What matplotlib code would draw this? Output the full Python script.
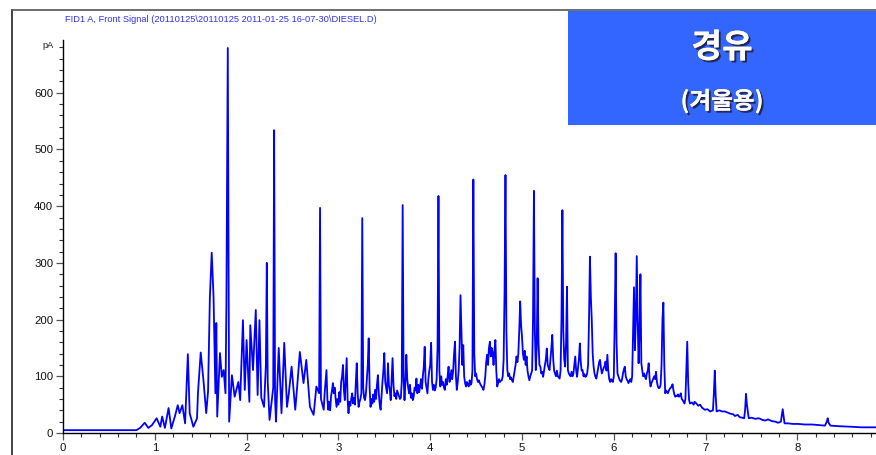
import matplotlib
matplotlib.use("Agg")
import matplotlib.pyplot as plt
from matplotlib import font_manager
from matplotlib.ticker import MultipleLocator
from matplotlib.lines import Line2D
from matplotlib.patches import Rectangle
import matplotlib.patheffects as pe

# ---------------- data ----------------
# early part of the run (retention time in min, signal in pA)
times_early = [0.00, 0.80, 0.84, 0.89, 0.93, 0.97, 1.02, 1.06, 1.08, 1.11,
               1.15, 1.18, 1.22, 1.25, 1.27, 1.30, 1.33, 1.36, 1.38, 1.42,
               1.46, 1.47, 1.50, 1.53, 1.56, 1.58, 1.60, 1.62, 1.64, 1.66,
               1.67, 1.68, 1.71, 1.73, 1.75, 1.77, 1.78, 1.795, 1.81, 1.84,
               1.87, 1.91, 1.93, 1.96, 1.98, 2.00, 2.03, 2.04, 2.07, 2.10,
               2.12, 2.14, 2.16, 2.19, 2.21, 2.22, 2.23, 2.25, 2.29, 2.30,
               2.31, 2.32, 2.35, 2.38, 2.41, 2.44, 2.46, 2.49, 2.53, 2.55,
               2.58, 2.62, 2.65, 2.69, 2.73, 2.76, 2.79, 2.80, 2.81, 2.84]
signal_early = [5, 5, 9, 18, 9, 14, 26, 11, 29, 9,
                44, 8, 30, 49, 35, 49, 17, 139, 35, 11,
                26, 70, 142, 93, 35, 73, 240, 318, 240, 70,
                194, 29, 141, 99, 111, 70, 229, 679, 20, 102,
                64, 90, 58, 199, 76, 164, 55, 190, 111, 217,
                67, 199, 62, 46, 120, 300, 90, 23, 80, 534,
                60, 20, 150, 35, 159, 46, 70, 117, 41, 80,
                143, 88, 129, 46, 32, 82, 70, 397, 60, 41]

# middle part, one reading every 0.01 min
times_mid = [2.85, 2.86, 2.87, 2.88, 2.89,
             2.90, 2.91, 2.92, 2.93, 2.94, 2.95, 2.96, 2.97, 2.98, 2.99,
             3.00, 3.01, 3.02, 3.03, 3.04, 3.05, 3.06, 3.07, 3.08, 3.09,
             3.10, 3.11, 3.12, 3.13, 3.14, 3.15, 3.16, 3.17, 3.18, 3.19,
             3.20, 3.21, 3.22, 3.23, 3.24, 3.25, 3.26, 3.27, 3.28, 3.29,
             3.30, 3.31, 3.32, 3.33, 3.34, 3.35, 3.36, 3.37, 3.38, 3.39,
             3.40, 3.41, 3.42, 3.43, 3.44, 3.45, 3.46, 3.47, 3.48, 3.49,
             3.50, 3.51, 3.52, 3.53, 3.54, 3.55, 3.56, 3.57, 3.58, 3.59,
             3.60, 3.61, 3.62, 3.63, 3.64, 3.65, 3.66, 3.67, 3.68, 3.69,
             3.70, 3.71, 3.72, 3.73, 3.74, 3.75, 3.76, 3.77, 3.78, 3.79,
             3.80, 3.81, 3.82, 3.83, 3.84, 3.85, 3.86, 3.87, 3.88, 3.89,
             3.90, 3.91, 3.92, 3.93, 3.94, 3.95, 3.96, 3.97, 3.98, 3.99,
             4.00, 4.01, 4.02, 4.03, 4.04, 4.05, 4.06, 4.07, 4.08, 4.09,
             4.10, 4.11, 4.12, 4.13, 4.14, 4.15, 4.16, 4.17, 4.18, 4.19,
             4.20, 4.21, 4.22, 4.23, 4.24, 4.25, 4.26, 4.27, 4.28, 4.29,
             4.30, 4.31, 4.32, 4.33, 4.34, 4.35, 4.36, 4.37, 4.38, 4.39,
             4.40, 4.41, 4.42, 4.43, 4.44, 4.45, 4.46, 4.47, 4.48, 4.49,
             4.50, 4.51, 4.52, 4.53, 4.54, 4.55, 4.56, 4.57, 4.58, 4.59,
             4.60, 4.61, 4.62, 4.63, 4.64, 4.65, 4.66, 4.67, 4.68, 4.69,
             4.70, 4.71, 4.72, 4.73, 4.74, 4.75, 4.76, 4.77, 4.78, 4.79,
             4.80, 4.81, 4.82, 4.83, 4.84, 4.85, 4.86, 4.87, 4.88, 4.89,
             4.90, 4.91, 4.92, 4.93, 4.94, 4.95, 4.96, 4.97, 4.98, 4.99,
             5.00, 5.01, 5.02, 5.03, 5.04, 5.05, 5.06, 5.07, 5.08, 5.09,
             5.10, 5.11, 5.12, 5.13, 5.14, 5.15, 5.16, 5.17, 5.18, 5.19,
             5.20, 5.21, 5.22, 5.23, 5.24, 5.25, 5.26, 5.27, 5.28, 5.29,
             5.30, 5.31, 5.32, 5.33, 5.34, 5.35, 5.36, 5.37, 5.38, 5.39,
             5.40, 5.41, 5.42, 5.43, 5.44, 5.45, 5.46, 5.47, 5.48, 5.49,
             5.50, 5.51, 5.52, 5.53, 5.54, 5.55, 5.56, 5.57, 5.58, 5.59,
             5.60, 5.61, 5.62, 5.63, 5.64, 5.65, 5.66, 5.67, 5.68, 5.69,
             5.70, 5.71, 5.72, 5.73, 5.74, 5.75, 5.76, 5.77, 5.78, 5.79,
             5.80, 5.81, 5.82, 5.83, 5.84, 5.85, 5.86, 5.87, 5.88, 5.89,
             5.90, 5.91, 5.92, 5.93, 5.94, 5.95, 5.96, 5.97, 5.98, 5.99,
             6.00, 6.01, 6.02, 6.03, 6.04, 6.05, 6.06, 6.07, 6.08, 6.09,
             6.10, 6.11, 6.12, 6.13, 6.14, 6.15, 6.16, 6.17, 6.18, 6.19,
             6.20, 6.21, 6.22, 6.23, 6.24, 6.25, 6.26, 6.27, 6.28, 6.29,
             6.30, 6.31, 6.32, 6.33, 6.34, 6.35, 6.36, 6.37, 6.38, 6.39,
             6.40, 6.41, 6.42, 6.43, 6.44, 6.45, 6.46, 6.47, 6.48, 6.49,
             6.50, 6.51, 6.52, 6.53, 6.54, 6.55, 6.56, 6.57, 6.58, 6.59,
             6.60, 6.61, 6.62, 6.63, 6.64, 6.65, 6.66, 6.67, 6.68, 6.69,
             6.70, 6.71, 6.72, 6.73, 6.74, 6.75, 6.76, 6.77, 6.78, 6.79,
             6.80, 6.81, 6.82, 6.83]
signal_mid = [70, 90, 111, 60, 41,
              55, 40, 65, 75, 88, 70, 80, 60, 46, 60,
              50, 72, 55, 90, 100, 120, 75, 58, 95, 132,
              60, 35, 55, 48, 60, 70, 52, 62, 50, 90,
              123, 70, 46, 55, 60, 70, 379, 80, 62, 58,
              70, 95, 120, 167, 80, 46, 60, 52, 68, 55,
              76, 60, 85, 102, 70, 50, 41, 65, 90, 110,
              141, 90, 80, 70, 123, 85, 75, 58, 95, 132,
              85, 65, 70, 60, 75, 70, 65, 60, 62, 90,
              402, 100, 58, 90, 138, 95, 80, 70, 85, 62,
              70, 58, 64, 80, 75, 96, 70, 85, 72, 82,
              95, 78, 100, 117, 152, 90, 80, 70, 95, 110,
              120, 159, 90, 76, 85, 75, 80, 95, 150, 418,
              110, 82, 100, 85, 90, 80, 76, 95, 85, 100,
              117, 90, 95, 111, 95, 110, 140, 161, 100, 76,
              90, 110, 150, 243, 180, 120, 155, 100, 88, 82,
              90, 85, 82, 93, 85, 88, 110, 447, 140, 100,
              105, 95, 90, 93, 88, 85, 82, 80, 76, 85,
              100, 125, 138, 120, 150, 161, 135, 150, 141, 120,
              145, 164, 110, 82, 88, 95, 90, 92, 93, 100,
              130, 250, 455, 180, 111, 100, 105, 95, 98, 93,
              90, 100, 110, 120, 135, 125, 140, 180, 232, 190,
              170, 140, 129, 145, 120, 135, 110, 100, 93, 100,
              105, 110, 200, 427, 180, 111, 150, 273, 160, 120,
              117, 105, 108, 99, 110, 120, 130, 149, 120, 115,
              111, 130, 150, 173, 130, 110, 105, 100, 110, 100,
              98, 96, 110, 200, 393, 180, 130, 117, 160, 258,
              111, 105, 102, 100, 108, 100, 105, 120, 135, 110,
              99, 115, 130, 158, 125, 110, 111, 100, 104, 99,
              100, 105, 120, 200, 311, 240, 199, 140, 117, 105,
              99, 96, 105, 115, 125, 129, 115, 105, 110, 115,
              118, 126, 110, 138, 110, 95, 90, 95, 92, 90,
              100, 200, 317, 160, 105, 100, 95, 92, 90, 95,
              105, 112, 117, 100, 95, 92, 88, 92, 95, 90,
              100, 180, 257, 146, 200, 312, 200, 123, 180, 280,
              123, 110, 100, 105, 99, 95, 105, 110, 123, 95,
              82, 88, 92, 96, 100, 95, 108, 90, 82, 79,
              80, 85, 120, 200, 230, 120, 70, 75, 72, 70,
              75, 78, 80, 82, 86, 75, 68, 64, 66, 65,
              68, 64, 66, 70, 60, 58, 55, 52, 60, 110,
              161, 90, 58, 52]

# late part of the run
times_late = [6.85, 6.87, 6.88, 6.90, 6.92, 6.94, 6.96, 6.99, 7.02, 7.05,
              7.08, 7.09, 7.10, 7.11, 7.12, 7.15, 7.18, 7.21, 7.24, 7.27,
              7.30, 7.32, 7.35, 7.37, 7.40, 7.42, 7.43, 7.44, 7.45, 7.47,
              7.50, 7.54, 7.58, 7.62, 7.65, 7.68, 7.72, 7.76, 7.79, 7.82,
              7.84, 7.86, 7.90, 7.95, 8.01, 8.08, 8.16, 8.23, 8.30, 8.32,
              8.33, 8.34, 8.36, 8.45, 8.59, 8.70, 8.85]
signal_late = [54, 50, 55, 52, 48, 50, 45, 41, 42, 38,
               40, 70, 110, 65, 38, 40, 38, 38, 36, 34,
               33, 30, 32, 28, 27, 26, 40, 69, 50, 26,
               27, 25, 26, 23, 22, 24, 21, 20, 18, 20,
               42, 17, 17, 16, 16, 15, 15, 14, 13, 20,
               26, 18, 13, 12, 11, 10, 10]

x_ticks = [0, 1, 2, 3, 4, 5, 6, 7, 8]
y_ticks = [0, 100, 200, 300, 400, 500, 600]
title_text = r"FID1 A, Front Signal (20110125\20110125 2011-01-25 16-07-30\DIESEL.D)"
box_title = "경유"
box_sub = "(겨울용)"

times = times_early + times_mid + times_late
signal = signal_early + signal_mid + signal_late

# ---------------- fonts ----------------
available = {f.name for f in font_manager.fontManager.ttflist}
if "Liberation Sans Narrow" in available:
    narrow = "Liberation Sans Narrow"
    fs_scale = 1.0
else:
    narrow = "Liberation Sans"
    fs_scale = 0.82
kfont = ["Noto Sans CJK KR", "DejaVu Sans"]

W, H = 876, 455
fig = plt.figure(figsize=(W / 100, H / 100), dpi=100)

x0_px, x_scale = 63, 91.8
y0_px, y_scale = 433, 0.567
top_px = 40
xmax = (W - x0_px) / x_scale
ymax = (y0_px - top_px) / y_scale

ax = fig.add_axes([x0_px / W, 1 - y0_px / H, 1 - x0_px / W, (y0_px - top_px) / H])
ax.plot(times, signal, color="#0000FF", lw=1.3)
ax.set_xlim(0, xmax)
ax.set_ylim(0, ymax)

for s in ["top", "right"]:
    ax.spines[s].set_visible(False)
for s in ["left", "bottom"]:
    ax.spines[s].set_linewidth(1.0)
    ax.spines[s].set_color("black")

ax.set_xticks(x_ticks)
ax.set_yticks(y_ticks)
ax.xaxis.set_minor_locator(MultipleLocator(0.2))
ax.yaxis.set_minor_locator(MultipleLocator(20))
ax.tick_params(axis="both", which="major", direction="out", length=5, width=0.9,
               color="#555555", labelsize=10 * fs_scale, pad=2, labelcolor="#111111")
ax.tick_params(axis="both", which="minor", direction="out", length=3, width=0.8,
               color="#333333")
for lab in ax.get_xticklabels() + ax.get_yticklabels():
    lab.set_fontfamily(narrow)

ax.text(-0.012, ymax * 0.985, "pA", transform=ax.get_yaxis_transform(), ha="right",
        va="center", fontsize=8 * fs_scale, family=narrow, color="#222222")

# frame lines of the original printout
fig.add_artist(Line2D([12 / W, 12 / W], [0, 1 - 10 / H], color="#222222", lw=1.2))
fig.add_artist(Line2D([12 / W, 1], [1 - 10 / H, 1 - 10 / H], color="#555555", lw=1.2))

fig.text(65 / W, 1 - 19 / H, title_text, ha="left", va="center", color="#3333EE",
         fontsize=8.1 * fs_scale, family=narrow)

# blue label box
fig.add_artist(Rectangle((568 / W, 1 - 125 / H), (W - 568) / W, 114 / H,
                         transform=fig.transFigure, facecolor="#3366FF", edgecolor="none"))
shadow = [pe.withSimplePatchShadow(offset=(1.5, -1.5), shadow_rgbFace="#222244", alpha=0.9),
          pe.Normal()]
fig.text(722 / W, 1 - 48 / H, box_title, ha="center", va="center", color="white",
         fontsize=24, fontweight="bold", family=kfont, path_effects=shadow)
fig.text(722 / W, 1 - 101 / H, box_sub, ha="center", va="center", color="white",
         fontsize=17, fontweight="bold", family=kfont, path_effects=shadow)

fig.savefig("out.png", dpi=100)
